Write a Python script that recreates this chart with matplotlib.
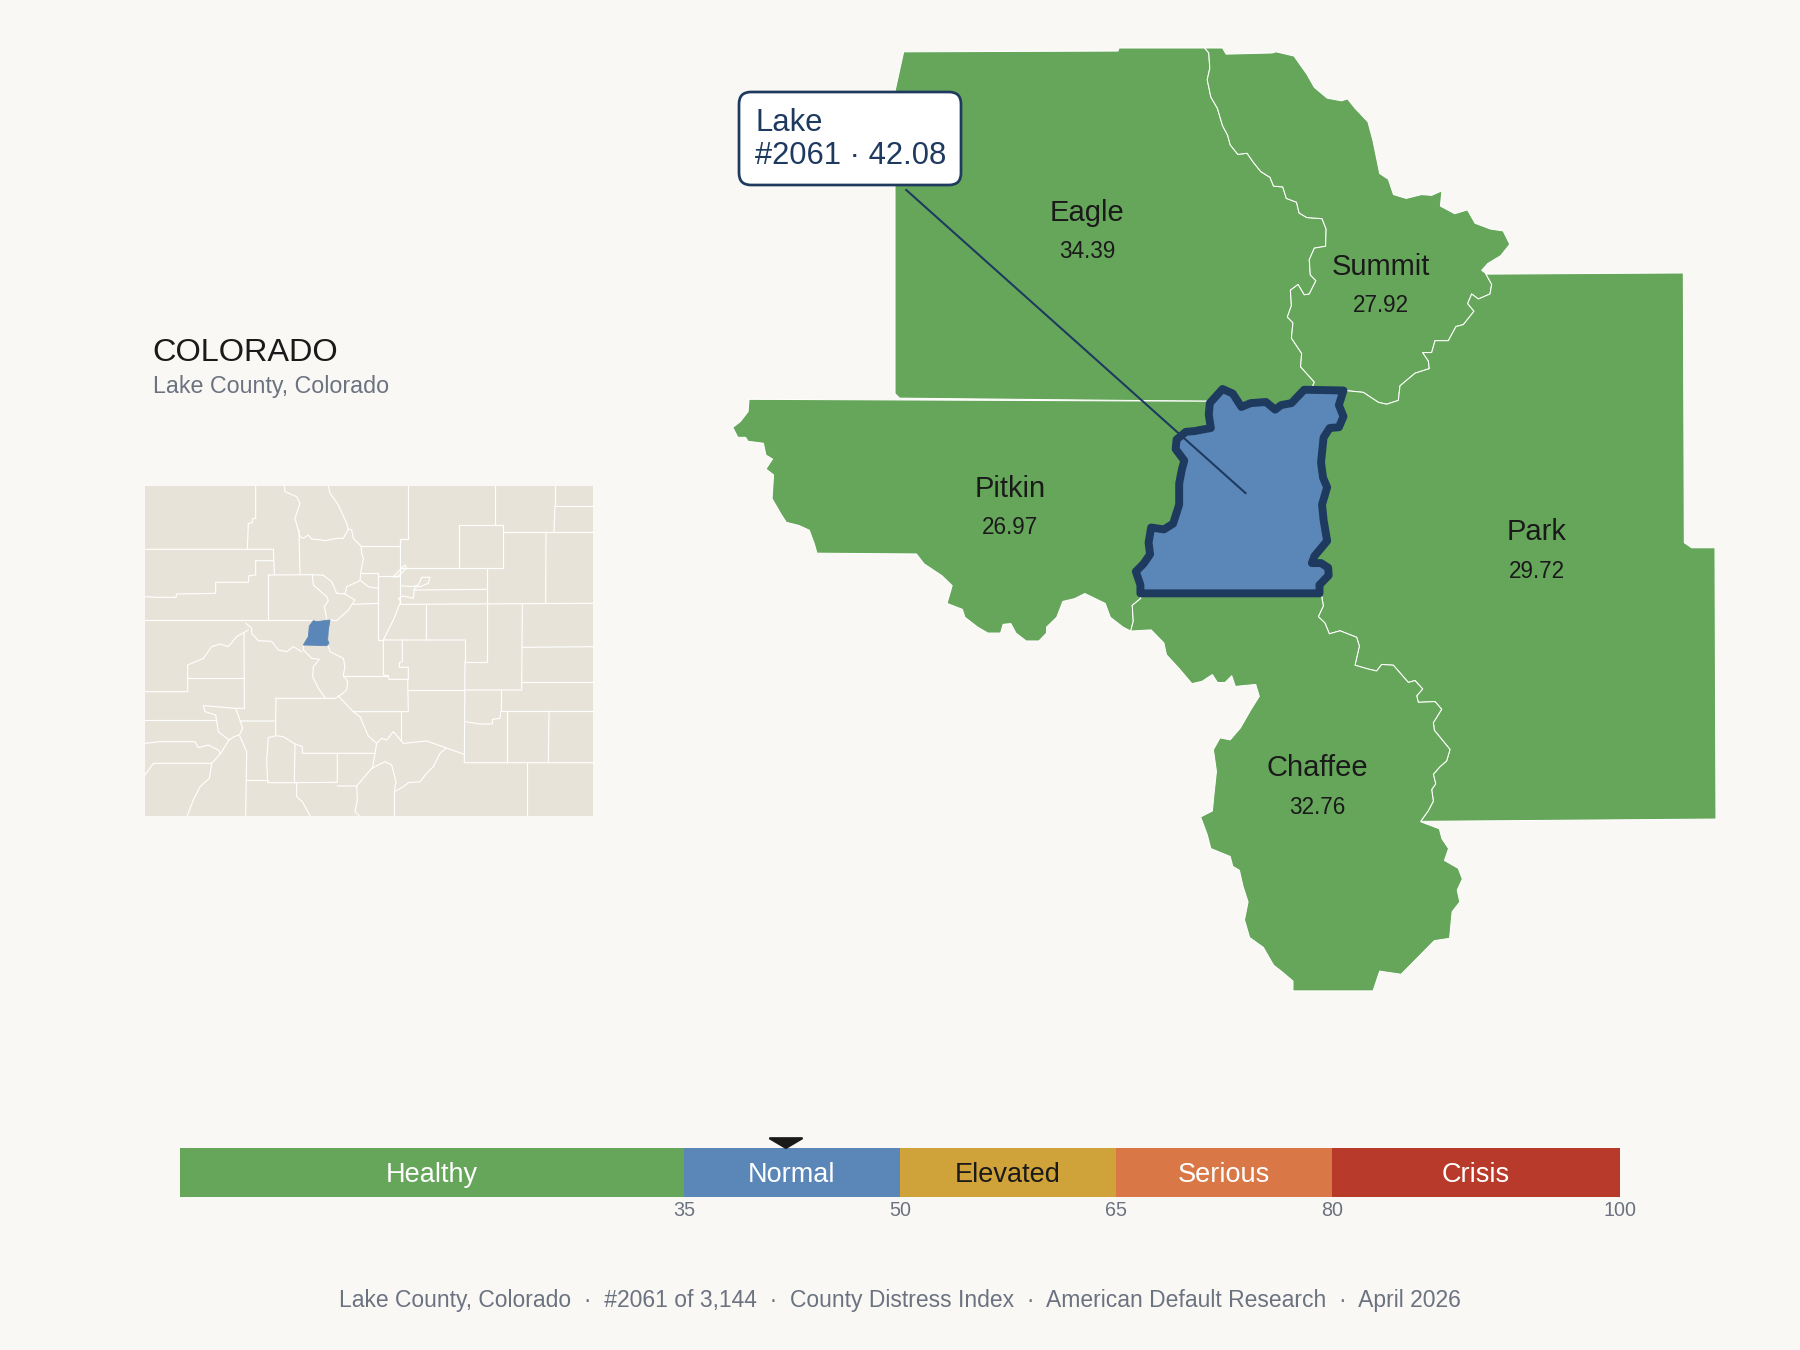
import numpy as np
import matplotlib
matplotlib.use('Agg')
import matplotlib.pyplot as plt
from matplotlib.patches import FancyBboxPatch

plt.rcParams['font.family'] = ['Liberation Sans', 'DejaVu Sans']

#colours
BG = '#faf8f5'
GREEN = '#66a65a'
BLUE = '#5b87b8'
NAVY = '#1e3a5f'
INK = '#1a1a1a'
GREY = '#6b7280'
LAND = '#e8e3d8'

#county labels
county_names = ['Eagle', 'Summit', 'Pitkin', 'Park', 'Chaffee']
county_scores = [34.39, 27.92, 26.97, 29.72, 32.76]
label_x = [1087, 1381, 1010, 1537, 1317]
label_y = [213, 267, 489, 532, 768]

#distress scale
band_names = ['Healthy', 'Normal', 'Elevated', 'Serious', 'Crisis']
band_edges = [0, 35, 50, 65, 80, 100]
band_colors = [GREEN, BLUE, '#d0a23a', '#d97746', '#b83a2a']
band_text = ['white', 'white', INK, 'white', 'white']
lake_score = 42.08

eagle_outer_a = [(343,950),(343,160),(360,57),(780,55),(782,47),(950,47)]
eagle_summit_a = [(950,47),(958,60),(960,100),(955,130),(962,175),(975,205),(985,250),(995,275),(1000,300),
    (1015,325),(1033,322),(1045,345),(1060,370),(1078,385),(1085,408),(1103,410),(1110,440),(1130,450),
    (1135,478),(1150,490),(1180,493),(1188,520),(1187,565),(1165,570),(1155,600),(1157,640),(1168,655),
    (1155,690),(1145,692),(1133,665),(1118,680),(1120,720),(1112,750),(1123,765),(1120,805),(1140,845),
    (1138,880),(1165,920),(1160,935)]
eagle_pitkin_a = [(955,970),(352,962)]
summit_outer_a = [(950,47),(985,47),(992,63),(1082,60),(1090,57),(1125,68),(1150,115),(1165,150),(1190,178),
    (1218,185),(1230,180),(1245,205),(1270,240),(1280,290),(1293,375),(1310,390),(1320,430),(1345,440),
    (1375,430),(1395,432),(1415,420),(1412,460),(1440,480),(1465,470),(1480,505),(1510,520),(1535,525),
    (1548,560),(1530,590),(1505,610),(1493,628),(1503,638)]
park_summit_c = [(558,63),(575,90),(570,115),(535,128),(515,115),(503,140),(522,160),(490,195),(468,200),
    (445,237),(405,237),(395,268),(368,268),(385,290),(388,310),(345,322),(300,355),(295,393),(260,403),
    (235,398),(190,372),(145,368)]
park_outer_c = [(558,63),(1150,60),(1153,765),(1175,778),(1245,778),(1248,1487),(360,1493)]
park_chaffee_c = [(65,905),(70,930),(55,958),(75,975),(88,1003),(120,995),(170,1012),(178,1035),(165,1085),
    (205,1095),(230,1100),(245,1083),(280,1085),(325,1130),(345,1125),(368,1147),(350,1165),(355,1182),
    (405,1180),(425,1200),(400,1235),(403,1255),(450,1305),(440,1335),(420,1350),(400,1370),(407,1395),
    (395,1410),(400,1440),(385,1465),(362,1493)]
lake_north_a = [(1222,942),(1145,940),(1120,975),(1100,980),(1088,992),(1070,972),(1040,975),(1022,985),
    (1005,950),(985,938),(960,975)]
lake_west_a = [(960,975),(958,1005),(962,1040),(930,1048),(913,1050),(895,1070),(893,1095),(910,1125),
    (905,1150),(900,1185),(900,1240),(888,1290),(870,1305),(845,1300),(840,1340),(843,1370),(830,1395),
    (815,1415),(824,1450),(824,1472)]
lake_east_a = [(1175,1472),(1175,1450),(1193,1425),(1192,1405),(1178,1393),(1160,1393),(1165,1375),(1190,1335),
    (1183,1280),(1180,1240),(1190,1195),(1182,1170),(1178,1130),(1183,1065),(1195,1040),(1213,1038),
    (1222,1010),(1213,980),(1222,942)]
pitkin_outer_b = [(57,48),(55,80),(40,105),(25,120),(35,145),(50,145),(55,155),(85,160),(90,190),(103,200),
    (90,225),(105,240),(102,300),(120,340),(130,360),(155,368),(175,380),(185,415),(190,438),(385,440),
    (400,465),(435,495),(455,520),(445,565),(475,580),(480,600),(505,625),(525,640),(550,640),(555,618),
    (570,616),(580,640),(600,660),(625,660),(640,640),(640,625),(660,600),(672,560),(695,553),(715,540),
    (755,565),(765,600),(790,625),(805,635)]
pitkin_chaffee_b = [(805,635),(810,610),(808,570),(825,552),(820,540)]
chaffee_outer_b = [(1375,1118),(1410,1135),(1415,1160),(1428,1185),(1420,1215),(1447,1235),(1455,1262),
    (1445,1290),(1450,1320),(1435,1345),(1430,1412),(1400,1418),(1335,1503),(1293,1495),(1280,1545),
    (1123,1545),(1123,1520),(1100,1495),(1085,1480),(1065,1435),(1038,1410),(1028,1365),(1035,1320),
    (1025,1280),(1018,1240),(1005,1230),(1000,1205),(962,1185),(955,1150),(942,1105),(965,1090),(968,1050),
    (973,990),(967,935),(980,905),(1000,910),(1020,880),(1040,835),(1057,800),(1050,770),(1010,775),
    (1003,748),(990,765),(975,765),(965,745),(945,762),(925,768),(900,730),(875,695),(870,665),(845,632),
    (805,635)]

inset_outline = [(45,48),(1390,48),(1390,1037),(45,1037)]
inset_lake = [(520,525),(535,500),(538,468),(550,452),(560,455),(600,450),(595,480),(593,510),(597,520),(590,527)]
inset_borders = [
    [(377,48),(377,145),(367,147),(367,158),(355,160),(352,238)],
    [(45,238),(430,238),(433,313)],
    [(45,380),(80,382),(138,382),(140,372),(257,370),(257,337),(355,337),(357,317),(377,315),(377,272),(430,272)],
    [(415,315),(415,450)],
    [(415,315),(547,314),(580,316),(605,335),(620,370),(645,372),(675,390),(655,420),(620,452),(600,450)],
    [(547,314),(550,345),(590,380),(595,392),(583,410),(590,445)],
    [(510,314),(507,180)],
    [(45,451),(550,451)],
    [(463,48),(465,65),(500,80),(510,100),(495,145),(510,200),(520,205),(535,195),(545,207),(575,210),(585,212),
     (620,205),(640,205),(655,178),(665,180),(670,205),(693,228),(695,250),(700,265),(692,310),(690,332),(650,350),(645,372)],
    [(595,48),(600,70),(625,105),(650,160),(655,178)],
    [(693,228),(811,228),(811,208),(833,208),(833,48)],
    [(1096,48),(1096,165)],
    [(1275,48),(1275,108),(1390,108)],
    [(1275,108),(1272,186)],
    [(986,165),(1118,165),(1118,295),(986,295),(986,165)],
    [(1118,186),(1390,186)],
    [(1248,186),(1247,400)],
    [(811,208),(811,400)],
    [(811,295),(986,295)],
    [(790,320),(825,285),(830,295),(800,322),(790,320)],
    [(811,347),(845,350),(865,345),(875,322),(900,322),(895,340),(870,350),(855,350),(850,385),(820,378),(805,385),(810,392)],
    [(850,360),(1072,358)],
    [(1072,295),(1072,400)],
    [(692,310),(745,310),(745,510),(760,510)],
    [(692,332),(715,350),(745,355)],
    [(670,403),(745,400)],
    [(810,403),(1390,400)],
    [(888,403),(888,510)],
    [(745,317),(811,317)],
    [(810,400),(790,450),(760,510),(1005,510)],
    [(1070,403),(1070,575),(1005,575),(1005,510)],
    [(1005,575),(1003,878),(1390,878)],
    [(1177,403),(1175,660),(1003,660)],
    [(1177,532),(1390,530)],
    [(1175,637),(1390,637)],
    [(1112,660),(1112,724),(1390,724)],
    [(1112,724),(1110,745),(1087,748),(1087,762),(1050,762),(1005,755)],
    [(1130,724),(1130,878)],
    [(1257,724),(1255,878)],
    [(1192,878),(1192,1037)],
    [(1003,853),(890,813),(820,820),(790,785),(770,810),(755,805),(740,820),(715,798),(690,740),(670,725),(625,678)],
    [(833,628),(835,725),(670,725)],
    [(833,660),(1003,660)],
    [(760,510),(760,615),(775,617),(777,628),(833,628)],
    [(817,510),(817,575),(808,578),(808,592),(835,592),(835,628)],
    [(640,617),(775,617)],
    [(595,530),(600,545),(640,565),(645,590),(640,615),(653,635),(650,660),(625,680),(615,685),(438,685)],
    [(520,528),(520,540),(545,565),(568,568),(550,590),(548,620),(565,655),(585,683)],
    [(348,460),(365,475),(365,490),(385,512),(425,514),(445,540),(470,545),(490,530),(515,545)],
    [(355,480),(320,500),(295,530),(270,522),(245,530),(220,565),(173,585),(173,665),(45,665)],
    [(173,625),(342,625)],
    [(342,490),(343,715),(317,715),(220,707),(225,725),(257,735),(265,785),(297,810)],
    [(317,715),(328,745),(338,775),(328,795),(312,800),(297,810),(272,850),(255,870),(245,880),(70,880),(45,915)],
    [(330,800),(350,845),(347,1037)],
    [(330,753),(437,753),(438,685)],
    [(437,753),(437,797),(415,803),(410,870),(413,938),(500,938)],
    [(437,797),(460,800),(495,822),(517,830),(517,850),(737,850)],
    [(495,822),(493,938),(622,937),(622,850)],
    [(622,948),(680,948),(725,895),(765,875),(785,885),(798,935),(793,965),(820,950),(835,938),(870,935),(890,910),(910,890),(930,850),(948,835)],
    [(740,820),(735,850),(727,895)],
    [(793,965),(793,1037)],
    [(680,948),(682,990),(675,1025),(687,1037)],
    [(500,938),(500,980),(517,995),(540,1037)],
    [(347,930),(413,930)],
    [(245,880),(238,925),(210,950),(190,990),(172,1037)],
    [(45,750),(255,750)],
    [(45,820),(90,815),(195,815),(205,833),(235,825),(265,840),(272,850)],
    [(813,725),(813,810)],
]

#crop units back to picture pixels
def crop_a(pts):
    p = np.array(pts, dtype=float)
    return np.column_stack([720 + p[:,0]/1.96, 30 + p[:,1]/2.613])

def crop_b(pts):
    p = np.array(pts, dtype=float)
    return np.column_stack([720 + p[:,0]/1.96, 380 + p[:,1]/2.529])

def crop_c(pts):
    p = np.array(pts, dtype=float)
    return np.column_stack([1300 + p[:,0]/3, 250 + p[:,1]/2.613])

def crop_inset(pts):
    p = np.array(pts, dtype=float)
    return np.column_stack([130 + p[:,0]/3, 470 + p[:,1]/3])

lake_north = crop_a(lake_north_a)
lake_west = crop_a(lake_west_a)
lake_east = crop_a(lake_east_a)

eagle = np.vstack([crop_a(eagle_outer_a), crop_a(eagle_summit_a), lake_north[1:], crop_a(eagle_pitkin_a)])
summit = np.vstack([crop_a(summit_outer_a), crop_c(park_summit_c), lake_north[:2], crop_a(eagle_summit_a)[::-1]])
pitkin = np.vstack([crop_b(pitkin_outer_b), crop_b(pitkin_chaffee_b), lake_west[::-1], crop_a(eagle_pitkin_a)[:1],
    crop_a([(57,965)])])
park = np.vstack([crop_c(park_outer_c), crop_c(park_chaffee_c)[::-1], lake_east, crop_c(park_summit_c)[::-1]])
chaffee = np.vstack([lake_west[-1:], lake_east[:1], crop_c(park_chaffee_c), crop_b(chaffee_outer_b), crop_b(pitkin_chaffee_b)])
lake = np.vstack([lake_west[-1:], lake_east, lake_north[1:], lake_west[1:]])

fig = plt.figure(figsize=(12, 9), dpi=150, facecolor=BG)
ax = fig.add_axes([0, 0, 1, 1])
ax.set_xlim(0, 1800)
ax.set_ylim(1350, 0)
ax.axis('off')

#main map
for poly in [eagle, summit, pitkin, park, chaffee]:
    ax.fill(poly[:,0], poly[:,1], facecolor=GREEN, edgecolor='white', linewidth=0.5, joinstyle='round', zorder=2)
ax.fill(lake[:,0], lake[:,1], facecolor=BLUE, edgecolor=NAVY, linewidth=3.8, joinstyle='round', zorder=3)

for name, score, x, y in zip(county_names, county_scores, label_x, label_y):
    ax.text(x, y, name, fontsize=14.0, color=INK, ha='center', va='center', zorder=4)
    ax.text(x, y + 39, f'{score:.2f}', fontsize=10.8, color=INK, ha='center', va='center', zorder=4)

#callout for Lake
leader = crop_a([(365,418),(1030,1210)])
ax.plot(leader[:,0], leader[:,1], color=NAVY, linewidth=1.0, zorder=5)
ax.add_patch(FancyBboxPatch((751, 104), 198, 69, boxstyle='round,pad=12,rounding_size=12',
    facecolor='white', edgecolor=NAVY, linewidth=1.3, zorder=6))
ax.text(755, 123, 'Lake', fontsize=14.9, color=NAVY, ha='left', va='center', zorder=7)
ax.text(755, 156, f'#2061 · {lake_score:.2f}', fontsize=14.9, color=NAVY, ha='left', va='center', zorder=7)

#title
ax.text(152, 353, 'COLORADO', fontsize=15.6, color=INK, ha='left', va='center')
ax.text(153, 386, 'Lake County, Colorado', fontsize=11.15, color=GREY, ha='left', va='center')

#locator map
outline = crop_inset(inset_outline)
ax.fill(outline[:,0], outline[:,1], facecolor=LAND, edgecolor='none', zorder=2)
for seg in inset_borders:
    s = crop_inset(seg)
    ax.plot(s[:,0], s[:,1], color='white', linewidth=0.55, solid_joinstyle='round', zorder=3)
small = crop_inset(inset_lake)
ax.fill(small[:,0], small[:,1], facecolor=BLUE, edgecolor=BLUE, linewidth=0.4, zorder=4)

#footer
ax.text(900, 1301, 'Lake County, Colorado  ·  #2061 of 3,144  ·  County Distress Index  ·  American Default Research  ·  April 2026',
    fontsize=11.0, color=GREY, ha='center', va='center')

#scale bar
bar = fig.add_axes([180/1800, 1 - 1197/1350, 1440/1800, 49/1350])
bar.set_xlim(0, 100)
bar.set_ylim(0, 1)
bar.patch.set_alpha(0)
for i, name in enumerate(band_names):
    bar.barh(0.5, band_edges[i+1] - band_edges[i], left=band_edges[i], height=1, color=band_colors[i])
    bar.text((band_edges[i] + band_edges[i+1]) / 2, 0.45, name, fontsize=13.0, color=band_text[i], ha='center', va='center')
bar.fill([lake_score - 1.15, lake_score + 1.15, lake_score], [1.2, 1.2, 1.0], color=INK, clip_on=False)
for s in bar.spines.values():
    s.set_visible(False)
bar.set_yticks([])
bar.set_xticks(band_edges[1:])
bar.tick_params(axis='x', length=0, pad=1.7, labelsize=9.5, labelcolor=GREY)

fig.savefig('out.png', dpi=150, facecolor=BG)
